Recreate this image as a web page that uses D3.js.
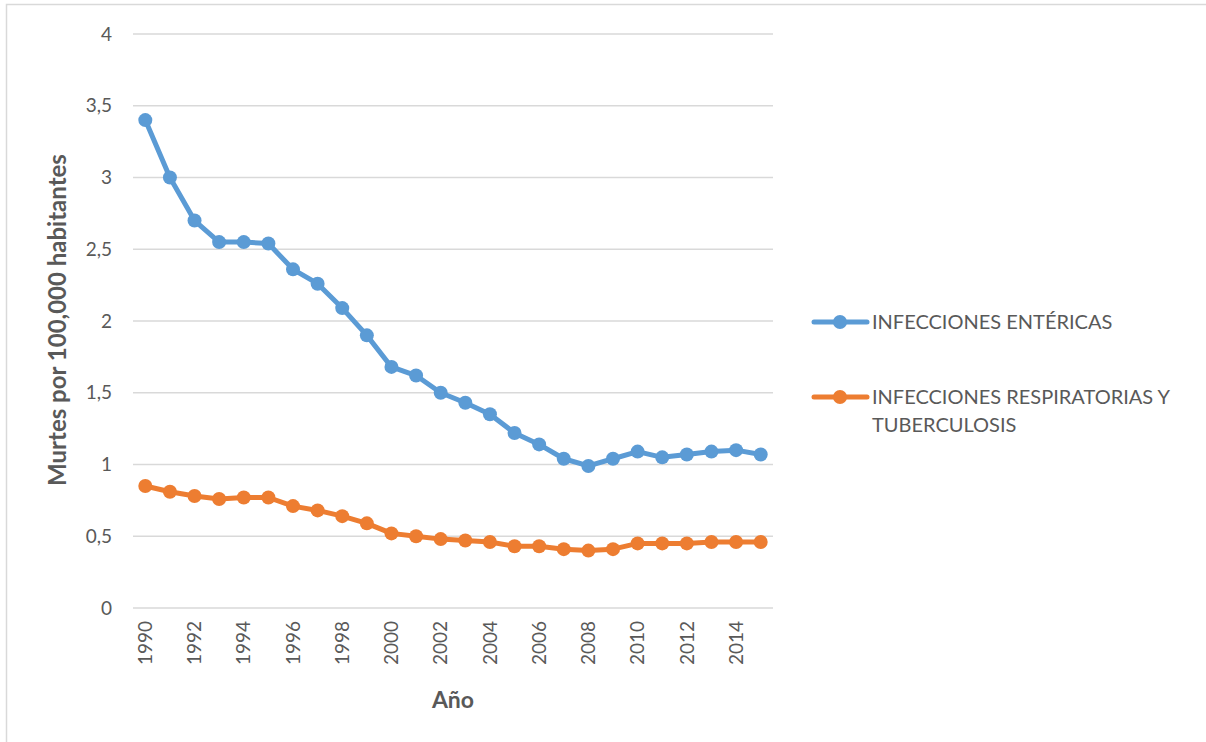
<!DOCTYPE html>
<html><head><meta charset="utf-8">
<script src="https://cdn.jsdelivr.net/npm/d3@7"></script>
<style>body{margin:0;background:#fff}svg{display:block}text{font-family:Lato,"Open Sans",sans-serif;fill:#595959}</style>
</head><body>
<svg id="c" width="1206" height="742"></svg>
<script>
const years = [1990,1991,1992,1993,1994,1995,1996,1997,1998,1999,2000,2001,2002,2003,2004,2005,2006,2007,2008,2009,2010,2011,2012,2013,2014,2015];
const entericas = [3.40,3.00,2.70,2.55,2.55,2.54,2.36,2.26,2.09,1.90,1.68,1.62,1.50,1.43,1.35,1.22,1.14,1.04,0.99,1.04,1.09,1.05,1.07,1.09,1.10,1.07];
const respiratorias = [0.85,0.81,0.78,0.76,0.77,0.77,0.71,0.68,0.64,0.59,0.52,0.50,0.48,0.47,0.46,0.43,0.43,0.41,0.40,0.41,0.45,0.45,0.45,0.46,0.46,0.46];
const yTicks = [0,0.5,1,1.5,2,2.5,3,3.5,4];
const xTickYears = [1990,1992,1994,1996,1998,2000,2002,2004,2006,2008,2010,2012,2014];
const seriesNames = ["INFECCIONES ENTÉRICAS","INFECCIONES RESPIRATORIAS Y TUBERCULOSIS"];
const colors = ["#5B9BD5","#ED7D31"];

const svg = d3.select("#c");
svg.append("rect").attr("x",6.5).attr("y",4.5).attr("width",1220).attr("height",760)
  .attr("fill","none").attr("stroke","#d9d9d9").attr("stroke-width",1.5);

const L=133,R=773,T=34,B=608;
const x = d3.scaleBand().domain(years).range([L,R]);
const y = d3.scaleLinear().domain([0,4]).range([B,T]);
const cx = d => x(d)+x.bandwidth()/2;

const fmt = v => String(v).replace(".",",");
svg.append("g").selectAll("line").data(yTicks).join("line")
  .attr("x1",L).attr("x2",R).attr("y1",d=>y(d)).attr("y2",d=>y(d))
  .attr("stroke","#d9d9d9").attr("stroke-width",1.3);
svg.append("g").selectAll("text").data(yTicks).join("text")
  .attr("x",112).attr("y",d=>y(d)).attr("dy","0.35em").attr("text-anchor","end")
  .attr("font-size",19).text(fmt);
svg.append("g").selectAll("text").data(xTickYears).join("text")
  .attr("transform",d=>`translate(${cx(d)},621) rotate(-90)`)
  .attr("dy","0.35em").attr("text-anchor","end").attr("font-size",19).text(d=>d);

svg.append("text").attr("x",453).attr("y",708).attr("text-anchor","middle")
  .attr("font-size",23).attr("font-weight","bold").text("Año");
svg.append("text").attr("transform","translate(58,320) rotate(-90)").attr("dy","0.35em")
  .attr("text-anchor","middle").attr("font-size",24).attr("font-weight","bold")
  .text("Murtes por 100,000 habitantes");

const series=[entericas,respiratorias];
const line=d3.line().x((d,i)=>cx(years[i])).y(d=>y(d));
series.forEach((s,k)=>{
  const g=svg.append("g");
  g.append("path").attr("d",line(s)).attr("fill","none").attr("stroke",colors[k])
    .attr("stroke-width",5).attr("stroke-linejoin","round").attr("stroke-linecap","round");
  g.selectAll("circle").data(s).join("circle").attr("cx",(d,i)=>cx(years[i])).attr("cy",d=>y(d))
    .attr("r",7).attr("fill",colors[k]);
});

const legY=[322,397];
seriesNames.forEach((n,k)=>{
  const g=svg.append("g");
  g.append("line").attr("x1",814).attr("x2",867).attr("y1",legY[k]).attr("y2",legY[k])
    .attr("stroke",colors[k]).attr("stroke-width",5).attr("stroke-linecap","round");
  g.append("circle").attr("cx",840).attr("cy",legY[k]).attr("r",7).attr("fill",colors[k]);
  const t=g.append("text").attr("x",872).attr("y",legY[k]).attr("dy","0.35em").attr("font-size",20);
  if(k===1){
    t.append("tspan").attr("x",872).text("INFECCIONES RESPIRATORIAS Y");
    t.append("tspan").attr("x",872).attr("dy",28).text("TUBERCULOSIS");
  } else t.text(n);
});
</script>
</body></html>
